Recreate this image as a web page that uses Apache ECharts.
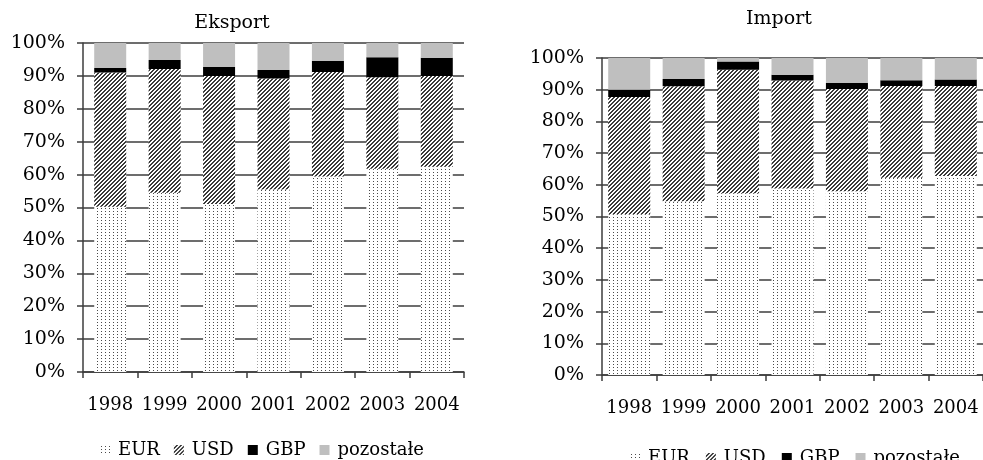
<!DOCTYPE html>
<html>
<head>
<meta charset="utf-8">
<script src="https://cdn.jsdelivr.net/npm/echarts@6/dist/echarts.min.js"></script>
<style>
  html, body { margin: 0; padding: 0; background: #fff; }
  #chart { width: 983px; height: 460px; }
</style>
</head>
<body>
<div id="chart"></div>
<script>
// Currency structure of trade settlements, shares in percent
const years = ['1998', '1999', '2000', '2001', '2002', '2003', '2004'];
const seriesNames = ['EUR', 'USD', 'GBP', 'pozostałe'];
const yTicks = [0, 10, 20, 30, 40, 50, 60, 70, 80, 90, 100];

// Eksport
const exportEUR = [50.2, 54.5, 51.1, 55.5, 59.4, 61.8, 62.4];
const exportUSD = [40.8, 37.6, 38.9, 33.7, 31.8, 27.8, 27.6];
const exportGBP = [1.4, 2.7, 2.7, 2.6, 3.3, 6.1, 5.5];
const exportOther = [7.6, 5.2, 7.3, 8.2, 5.5, 4.3, 4.5];

// Import
const importEUR = [50.7, 54.8, 57.3, 58.8, 58.0, 62.2, 62.8];
const importUSD = [37.0, 36.3, 39.0, 34.1, 32.2, 29.0, 28.4];
const importGBP = [2.3, 2.3, 2.6, 1.8, 1.9, 1.8, 2.0];
const importOther = [10.0, 6.6, 1.1, 5.3, 7.9, 7.0, 6.8];

// Fill textures: stipple for EUR, diagonal hatching for USD
function makeTile(w, h, painter) {
  const c = document.createElement('canvas');
  c.width = w; c.height = h;
  const ctx = c.getContext('2d');
  ctx.fillStyle = '#ffffff';
  ctx.fillRect(0, 0, w, h);
  painter(ctx);
  return c;
}
const dotTile = makeTile(4, 3, ctx => {
  ctx.fillStyle = '#4a4a4a';
  ctx.fillRect(1, 1, 1, 1);
});
const hatchTile = makeTile(4, 4, ctx => {
  ctx.fillStyle = '#3a3a3a';
  for (let x = 0; x < 4; x++) {
    for (let y = 0; y < 4; y++) {
      const s = (x + y) % 4;
      if (s === 2 || s === 3) ctx.fillRect(x, y, 1, 1);
    }
  }
});
const fills = [
  { image: dotTile, repeat: 'repeat' },
  { image: hatchTile, repeat: 'repeat' },
  '#000000',
  '#bfbfbf'
];

const FONT = 'DejaVu Serif';
const lineColor = '#3c3c3c';
const textColor = '#000';

function xAxisFor(gridIndex) {
  return {
    type: 'category', gridIndex, data: years,
    axisLine: { lineStyle: { color: lineColor, width: 1.5 } },
    axisTick: { show: true, length: 6, interval: 0, lineStyle: { color: lineColor, width: 1.5 } },
    axisLabel: { color: textColor, fontFamily: FONT, fontSize: 18, margin: 24, interval: 0 }
  };
}
function yAxisFor(gridIndex) {
  return {
    type: 'value', gridIndex, min: yTicks[0], max: yTicks[yTicks.length - 1], interval: 10,
    axisLine: { show: true, lineStyle: { color: lineColor, width: 1.5 } },
    axisTick: { show: true, length: 6, lineStyle: { color: lineColor, width: 1.5 } },
    splitLine: { show: true, lineStyle: { color: lineColor, width: 1.5 } },
    axisLabel: { color: textColor, fontFamily: FONT, fontSize: 19, margin: 18, formatter: '{value}%' }
  };
}

function barSeries(name, data, idx, stack, barWidth, color) {
  return {
    type: 'bar', name, data, stack,
    xAxisIndex: idx, yAxisIndex: idx,
    barWidth,
    itemStyle: { color },
    emphasis: { disabled: true },
    z: 3
  };
}

const exportSets = [exportEUR, exportUSD, exportGBP, exportOther];
const importSets = [importEUR, importUSD, importGBP, importOther];
const series = [];
seriesNames.forEach((n, i) => series.push(barSeries(n, exportSets[i], 0, 'eksport', 32, fills[i])));
seriesNames.forEach((n, i) => series.push(barSeries(n, importSets[i], 1, 'import', 42, fills[i])));

const legendBase = {
  orient: 'horizontal', icon: 'rect', itemWidth: 10, itemHeight: 10,
  data: seriesNames,
  textStyle: { fontFamily: FONT, fontSize: 18, color: textColor, padding: [0, 0, 0, 3] },
  selectedMode: false
};

const chart = echarts.init(document.getElementById('chart'), null, { renderer: 'canvas' });
chart.setOption({
  animation: false,
  backgroundColor: '#ffffff',
  title: [
    { text: 'Eksport', left: 227, top: 9, textAlign: 'center',
      textStyle: { fontFamily: FONT, fontSize: 19, fontWeight: 'normal', color: textColor } },
    { text: 'Import', left: 774, top: 5, textAlign: 'center',
      textStyle: { fontFamily: FONT, fontSize: 19, fontWeight: 'normal', color: textColor } }
  ],
  grid: [
    { left: 83, top: 43, right: 519, bottom: 88 },
    { left: 602, top: 58, right: -2, bottom: 85 }
  ],
  xAxis: [xAxisFor(0), xAxisFor(1)],
  yAxis: [yAxisFor(0), yAxisFor(1)],
  legend: [
    Object.assign({}, legendBase, { left: 95, top: 436, itemGap: 14 }),
    Object.assign({}, legendBase, { left: 625, top: 444, itemGap: 16 })
  ],
  series
});
</script>
</body>
</html>
